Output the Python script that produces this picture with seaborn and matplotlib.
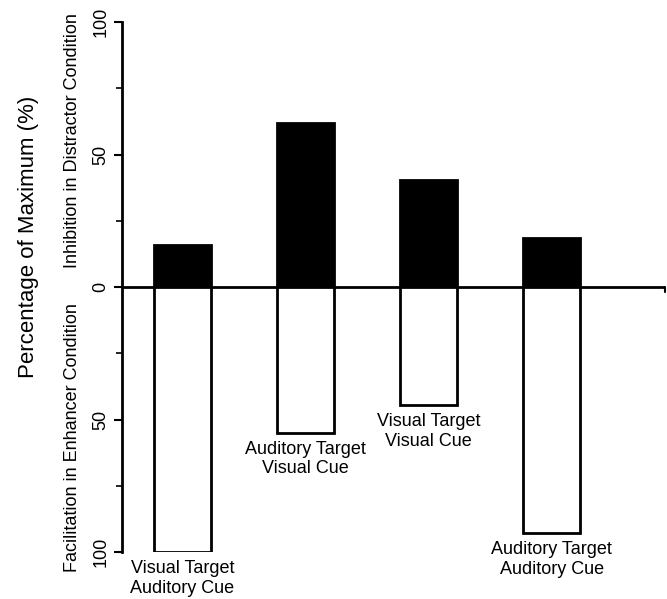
import matplotlib
matplotlib.use("Agg")
import matplotlib.pyplot as plt
import seaborn as sns
import pandas as pd
import numpy as np
from matplotlib.ticker import FixedLocator, FuncFormatter

categories = ["Visual Target\nAuditory Cue", "Auditory Target\nVisual Cue",
              "Visual Target\nVisual Cue", "Auditory Target\nAuditory Cue"]
inhibition = [16, 62, 40.5, 18.5]
facilitation = [100, 55, 44.5, 93]

sns.set_theme(style="white")
plt.rcParams['font.family'] = ['Liberation Sans', 'DejaVu Sans']
plt.rcParams['text.color'] = 'black'
plt.rcParams['ytick.color'] = 'black'

df = pd.DataFrame({"cat": categories, "inh": inhibition,
                   "fac": [-v for v in facilitation]})

fig = plt.figure(figsize=(6.67, 5.99), dpi=100)
ax = fig.add_axes([0.183, 0.0785, 0.814, 0.8845])

sns.barplot(data=df, x="cat", y="inh", color="black", edgecolor="black",
            linewidth=2, width=0.46, saturation=1, ax=ax)
sns.barplot(data=df, x="cat", y="fac", color="white", edgecolor="black",
            linewidth=2, width=0.46, saturation=1, ax=ax)

ax.set_xlim(-0.49, 3.92)
ax.set_ylim(-100, 100)
ax.axhline(0, color="black", lw=2, zorder=0.5)
ax.plot([3.92, 3.92], [0, -2], color="black", lw=1.5, clip_on=False)

for s in ["top", "right", "bottom"]:
    ax.spines[s].set_visible(False)
ax.spines["left"].set_linewidth(2)
ax.spines["left"].set_color("black")

ax.set_xticks([])
ax.set_xlabel("")
ax.set_ylabel("")
ax.yaxis.set_major_locator(FixedLocator([-100, -50, 0, 50, 100]))
ax.yaxis.set_minor_locator(FixedLocator([-75, -25, 25, 75]))
ax.yaxis.set_major_formatter(FuncFormatter(lambda v, p: f"{abs(int(v))}"))
ax.tick_params(axis="y", which="major", left=True, length=6, width=1.5,
               color="black", labelsize=13, pad=3, labelcolor="black")
ax.tick_params(axis="y", which="minor", left=True, length=4, width=1.2, color="black")
for lab in ax.get_yticklabels():
    lab.set_rotation(90)
    lab.set_va("center")

for i, (c, f) in enumerate(zip(categories, facilitation)):
    ax.text(i, -f - 3, c, ha="center", va="top", fontsize=13, linespacing=1.2,
            color="black")

fig.text(0.042, 0.604, "Percentage of Maximum (%)", rotation=90, ha="center",
         va="center", fontsize=16, color="black")
fig.text(0.108, 0.766, "Inhibition in Distractor Condition", rotation=90,
         ha="center", va="center", fontsize=13, color="black")
fig.text(0.108, 0.27, "Facilitation in Enhancer Condition", rotation=90,
         ha="center", va="center", fontsize=13, color="black")

fig.savefig("out.png", dpi=100)
